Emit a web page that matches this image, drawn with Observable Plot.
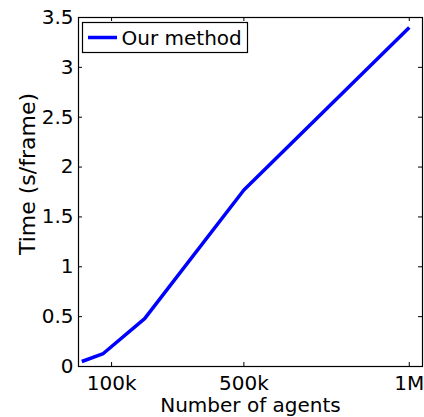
<!DOCTYPE html>
<html>
<head>
<meta charset="utf-8">
<script src="https://cdn.jsdelivr.net/npm/d3@7"></script>
<script src="https://cdn.jsdelivr.net/npm/@observablehq/plot@0.6"></script>
<style>
  html, body { margin: 0; padding: 0; background: white; }
  #chart { width: 424px; height: 417px; }
</style>
</head>
<body>
<div id="chart"></div>
<script>
// Data
const agents = [10000, 75000, 200000, 500000, 1000000];
const timePerFrame = [0.05, 0.13, 0.48, 1.77, 3.40];
const seriesName = "Our method";

const xTicks = [100000, 500000, 1000000];
const xTickLabels = ["100k", "500k", "1M"];
const yTicks = [0, 0.5, 1, 1.5, 2, 2.5, 3, 3.5];
const yTickLabels = ["0", "0.5", "1", "1.5", "2", "2.5", "3", "3.5"];

const xLabel = "Number of agents";
const yLabel = "Time (s/frame)";

const data = agents.map((a, i) => ({agents: a, time: timePerFrame[i]}));

const W = 424, H = 417;
const mL = 78, mR = 2, mT = 17, mB = 51;
const innerW = W - mL - mR, innerH = H - mT - mB;
const tick = 4;

const chart = Plot.plot({
  width: W, height: H,
  marginLeft: mL, marginRight: mR, marginTop: mT, marginBottom: mB,
  style: {fontFamily: "DejaVu Sans", fontSize: "20px", background: "white", color: "black"},
  x: {domain: [0, 1040000]},
  y: {domain: [0, 3.5]},
  marks: [
    Plot.line(data, {x: "agents", y: "time", stroke: "#0000ff", strokeWidth: 3.5, strokeLinejoin: "round", strokeLinecap: "butt"}),
    // inward ticks on all four sides
    Plot.tickX(xTicks, {x: d => d, insetTop: innerH - tick, stroke: "black"}),
    Plot.tickX(xTicks, {x: d => d, insetBottom: innerH - tick, stroke: "black"}),
    Plot.tickY(yTicks, {y: d => d, insetRight: innerW - tick, stroke: "black"}),
    Plot.tickY(yTicks, {y: d => d, insetLeft: innerW - tick, stroke: "black"}),
    Plot.axisX(xTicks, {tickSize: 0, tickPadding: 9, tickFormat: d => xTickLabels[xTicks.indexOf(d)], label: null}),
    Plot.axisY(yTicks, {tickSize: 0, tickPadding: 5, tickFormat: d => yTickLabels[yTicks.indexOf(d)], label: null}),
    Plot.text([xLabel], {frameAnchor: "bottom", lineAnchor: "top", dy: 31, fontSize: 20}),
    Plot.text([yLabel], {frameAnchor: "left", textAnchor: "middle", rotate: -90, dx: -51, dy: -18, fontSize: 22}),
    Plot.frame({stroke: "black", strokeWidth: 1.2})
  ]
});

// Legend box inside the plot (top-left)
const svg = d3.select(chart);
const lg = svg.append("g").attr("transform", "translate(82.5,22.5)");
lg.append("rect").attr("width", 165).attr("height", 30)
  .attr("fill", "white").attr("stroke", "black").attr("stroke-width", 1.2);
lg.append("line").attr("x1", 5.5).attr("x2", 34.5).attr("y1", 15).attr("y2", 15)
  .attr("stroke", "#0000ff").attr("stroke-width", 3.5);
lg.append("text").attr("x", 39).attr("y", 15).attr("dy", "0.36em")
  .attr("text-anchor", "start")
  .attr("font-family", "DejaVu Sans").attr("font-size", 20).attr("fill", "black")
  .text(seriesName);

document.getElementById("chart").appendChild(chart);
</script>
</body>
</html>
